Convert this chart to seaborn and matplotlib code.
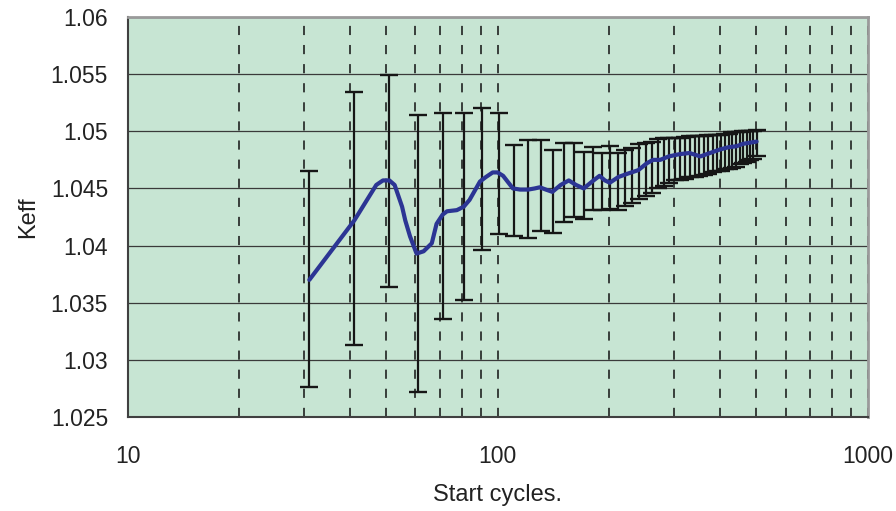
import numpy as np
import matplotlib
matplotlib.use("Agg")
import matplotlib.pyplot as plt
import seaborn as sns
from matplotlib.ticker import FixedLocator, LogLocator, NullFormatter

# ---- data ----
bar_x = [31, 41, 51, 61, 71, 81, 91, 101, 111, 121, 131, 141, 151, 161, 171, 181,
         191, 201, 211, 221, 231, 241, 251, 261, 271, 281, 291, 301, 311, 321, 331,
         341, 351, 361, 371, 381, 391, 401, 411, 421, 431, 441, 451, 461, 471, 481,
         491, 501]
bar_upper = [1.0465, 1.0534, 1.0549, 1.0514, 1.0516, 1.0516, 1.0520, 1.0516, 1.0488,
             1.0492, 1.0492, 1.0484, 1.0490, 1.0490, 1.0482, 1.0486, 1.0481, 1.0487,
             1.0481, 1.0484, 1.0485, 1.0489, 1.0490, 1.0491, 1.0493, 1.0494, 1.0494,
             1.0494, 1.0494, 1.0495, 1.0496, 1.0496, 1.0496, 1.0496, 1.0497, 1.0497,
             1.0497, 1.0497, 1.0498, 1.0498, 1.0499, 1.0499, 1.0499, 1.0500, 1.0500,
             1.0500, 1.0500, 1.0501]
bar_lower = [1.0276, 1.0313, 1.0364, 1.0272, 1.0336, 1.0352, 1.0396, 1.0410, 1.0408,
             1.0407, 1.0413, 1.0411, 1.0421, 1.0425, 1.0423, 1.0431, 1.0431, 1.0432,
             1.0431, 1.0435, 1.0437, 1.0441, 1.0443, 1.0446, 1.0450, 1.0452, 1.0455,
             1.0457, 1.0457, 1.0458, 1.0460, 1.0460, 1.0461, 1.0462, 1.0463, 1.0464,
             1.0465, 1.0465, 1.0467, 1.0467, 1.0468, 1.0469, 1.0471, 1.0472, 1.0473,
             1.0475, 1.0476, 1.0478]

line_x = [31, 41, 47, 49, 51, 52.7, 54, 55.2, 56.3, 58, 60.4, 63.1, 66.4, 68.4, 71,
          73, 77.6, 81, 84, 89.6, 93, 97, 100, 103.5, 107, 110, 115, 121, 126, 130,
          135, 140.6, 148, 155.7, 163, 170.9, 180, 188.5, 195, 201, 212, 225, 240,
          253, 263, 275, 290, 310, 330, 353, 375, 398, 420, 443, 460, 480, 501]
line_y = [1.0370, 1.0422, 1.0453, 1.0457, 1.0457, 1.0453, 1.0443, 1.0434, 1.0422,
          1.0408, 1.0393, 1.0395, 1.0402, 1.0419, 1.0427, 1.0430, 1.0431, 1.0434,
          1.0440, 1.0456, 1.0460, 1.0464, 1.0464, 1.0461, 1.0455, 1.0450, 1.0449,
          1.0449, 1.0450, 1.0451, 1.0449, 1.0447, 1.0453, 1.0457, 1.0453, 1.0450,
          1.0456, 1.0461, 1.0457, 1.0455, 1.0460, 1.0463, 1.0466, 1.0472, 1.0475,
          1.0475, 1.0478, 1.0480, 1.0481, 1.0478, 1.0481, 1.0484, 1.0486, 1.0487,
          1.0489, 1.0490, 1.0491]

x_ticks = [10, 100, 1000]
x_tick_labels = ["10", "100", "1000"]
y_ticks = [1.025, 1.03, 1.035, 1.04, 1.045, 1.05, 1.055, 1.06]
y_tick_labels = ["1.025", "1.03", "1.035", "1.04", "1.045", "1.05", "1.055", "1.06"]

# ---- style ----
sns.set_style("white")
plt.rcParams["font.family"] = ["Liberation Sans", "DejaVu Sans"]

fig = plt.figure(figsize=(8.96, 5.11), dpi=100)
ax = fig.add_axes([127.5 / 896, 1 - 417 / 511, (867.7 - 127.5) / 896, 400 / 511])
ax.set_facecolor("#c7e5d3")

ub = np.array(bar_upper)
lb = np.array(bar_lower)
ax.errorbar(bar_x, (ub + lb) / 2, yerr=(ub - lb) / 2, fmt="none",
            ecolor="#161616", elinewidth=1.6, capsize=6.5, capthick=1.7, zorder=3)

sns.lineplot(x=line_x, y=line_y, sort=False, estimator=None, color="#2c3594",
             linewidth=3.0, ax=ax, zorder=4)

ax.set_xscale("log")
ax.set_xlim(10, 1000)
ax.set_ylim(1.025, 1.06)

ax.xaxis.set_major_locator(FixedLocator(x_ticks))
ax.set_xticklabels(x_tick_labels)
ax.xaxis.set_minor_locator(LogLocator(base=10, subs=np.arange(2, 10)))
ax.xaxis.set_minor_formatter(NullFormatter())
ax.set_yticks(y_ticks)
ax.set_yticklabels(y_tick_labels)

ax.grid(which="both", axis="x", color="#111111", linewidth=1.1,
        linestyle=(0, (6.0, 6.5)), zorder=1)
ax.grid(which="major", axis="y", color="#3a3a3a", linewidth=0.9, linestyle="-", zorder=1)
ax.set_axisbelow(True)

ax.tick_params(axis="both", which="both", length=0, labelsize=16.5, colors="#222222")
ax.tick_params(axis="x", pad=20)
ax.tick_params(axis="y", pad=14)

for side in ["left", "bottom"]:
    ax.spines[side].set_color("#404040")
    ax.spines[side].set_linewidth(1.5)
for side in ["top", "right"]:
    ax.spines[side].set_color("#9a9a9a")
    ax.spines[side].set_linewidth(2.0)

ax.set_xlabel("Start cycles.", fontsize=17, color="#222222", labelpad=12)
ax.set_ylabel("Keff", fontsize=17, color="#222222", labelpad=8)

fig.savefig("out.png", dpi=100)
